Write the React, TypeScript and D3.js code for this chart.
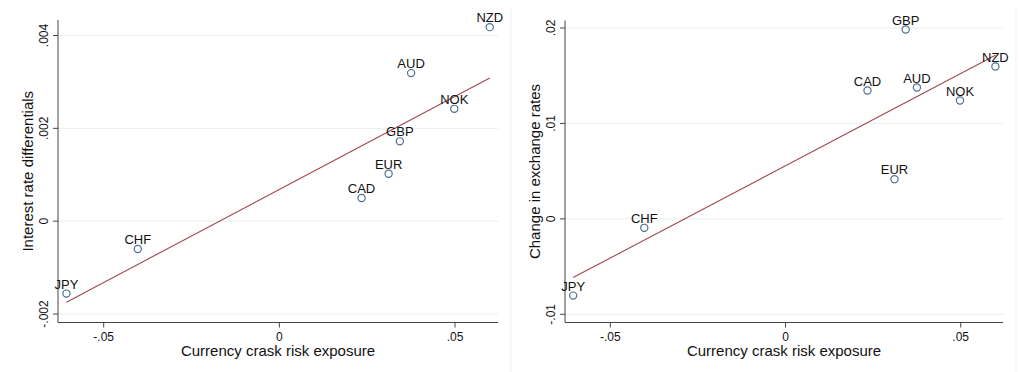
import React from "react";
import * as d3 from "d3";

const currencies = ["JPY", "CHF", "CAD", "EUR", "GBP", "NOK", "AUD", "NZD"];
const exposure = [-0.0606, -0.0403, 0.0234, 0.0311, 0.0343, 0.0498, 0.0375, 0.0599];
const interestDiff = [-0.00156, -0.0006, 0.0005, 0.00102, 0.00172, 0.00242, 0.00319, 0.00418];
const fxChange = [-0.00804, -0.00094, 0.01345, 0.00416, 0.01984, 0.0124, 0.01376, 0.01596];

const xTicks = [-0.05, 0, 0.05];
const xTickLabels = ["-.05", "0", ".05"];
const leftYTicks = [-0.002, 0, 0.002, 0.004];
const leftYTickLabels = ["-.002", "0", ".002", ".004"];
const rightYTicks = [-0.01, 0, 0.01, 0.02];
const rightYTickLabels = ["-.01", "0", ".01", ".02"];

const xTitle = "Currency crask risk exposure";
const leftYTitle = "Interest rate differentials";
const rightYTitle = "Change in exchange rates";

const FONT = "'Liberation Sans', Arial, Helvetica, sans-serif";
const POINT_COLOR = "#4b6f95";
const LINE_COLOR = "#a3474c";
const GRID_COLOR = "#e6eef0";
const AXIS_COLOR = "#444";

function ols(xs: number[], ys: number[]) {
  const mx = d3.mean(xs)!;
  const my = d3.mean(ys)!;
  let sxy = 0, sxx = 0;
  xs.forEach((x, i) => {
    sxy += (x - mx) * (ys[i] - my);
    sxx += (x - mx) * (x - mx);
  });
  const b = sxy / sxx;
  return { a: my - b * mx, b };
}

type PanelProps = {
  xRange: [number, number];
  yRange: [number, number];
  yDomain: [number, number];
  axisLeft: number;
  axisRight: number;
  axisTop: number;
  axisBottom: number;
  ys: number[];
  yTicks: number[];
  yTickLabels: string[];
  yTitle: string;
};

function Panel(p: PanelProps) {
  const x = d3.scaleLinear().domain([-0.05, 0.05]).range(p.xRange);
  const y = d3.scaleLinear().domain(p.yDomain).range(p.yRange);
  const { a, b } = ols(exposure, p.ys);
  const [xmin, xmax] = d3.extent(exposure) as [number, number];
  const line = d3.line<number>().x((d) => x(d)).y((d) => y(a + b * d));
  const midY = (p.axisTop + p.axisBottom) / 2;
  const midX = (p.axisLeft + p.axisRight) / 2;
  return (
    <g fontFamily={FONT}>
      {p.yTicks.map((t) => (
        <line key={"g" + t} x1={p.axisLeft} x2={p.axisRight} y1={y(t)} y2={y(t)} stroke={GRID_COLOR} strokeWidth={1} />
      ))}
      <line x1={p.axisLeft} x2={p.axisLeft} y1={p.axisTop} y2={p.axisBottom} stroke={AXIS_COLOR} strokeWidth={1} />
      <line x1={p.axisLeft} x2={p.axisRight} y1={p.axisBottom} y2={p.axisBottom} stroke={AXIS_COLOR} strokeWidth={1} />
      {p.yTicks.map((t, i) => (
        <g key={"yt" + t}>
          <line x1={p.axisLeft - 5} x2={p.axisLeft} y1={y(t)} y2={y(t)} stroke={AXIS_COLOR} strokeWidth={1} />
          <text
            transform={`translate(${p.axisLeft - 10},${y(t)}) rotate(-90)`}
            textAnchor="middle"
            fontSize={12}
            fill="#111"
          >
            {p.yTickLabels[i]}
          </text>
        </g>
      ))}
      {xTicks.map((t, i) => (
        <g key={"xt" + t}>
          <line x1={x(t)} x2={x(t)} y1={p.axisBottom} y2={p.axisBottom + 5} stroke={AXIS_COLOR} strokeWidth={1} />
          <text x={x(t)} y={p.axisBottom + 18} textAnchor="middle" fontSize={12} fill="#111">
            {xTickLabels[i]}
          </text>
        </g>
      ))}
      <text x={midX} y={356} textAnchor="middle" fontSize={15} fill="#111">
        {xTitle}
      </text>
      <text
        transform={`translate(${p.axisLeft - 25},${midY}) rotate(-90)`}
        textAnchor="middle"
        fontSize={15}
        fill="#111"
      >
        {p.yTitle}
      </text>
      <path d={line([xmin, xmax]) || ""} fill="none" stroke={LINE_COLOR} strokeWidth={1.1} />
      {currencies.map((c, i) => (
        <g key={c}>
          <circle cx={x(exposure[i])} cy={y(p.ys[i])} r={3.6} fill="none" stroke={POINT_COLOR} strokeWidth={1.2} />
          <text x={x(exposure[i])} y={y(p.ys[i]) - 5} textAnchor="middle" fontSize={13} fill="#111">
            {c}
          </text>
        </g>
      ))}
    </g>
  );
}

export default function App() {
  return (
    <svg
      width={1019}
      height={372}
      style={{ position: "absolute", left: 0, top: 0, background: "#fff" }}
    >
      <rect x={0} y={0} width={1019} height={372} fill="#fff" />
      <line x1={511} x2={511} y1={7} y2={372} stroke="#f1f1f1" strokeWidth={1} />
      <line x1={1016} x2={1016} y1={7} y2={372} stroke="#f1f1f1" strokeWidth={1} />
      <Panel
        xRange={[103.7, 455]}
        yRange={[314, 35.5]}
        yDomain={[-0.002, 0.004]}
        axisLeft={58}
        axisRight={498}
        axisTop={20}
        axisBottom={322.5}
        ys={interestDiff}
        yTicks={leftYTicks}
        yTickLabels={leftYTickLabels}
        yTitle={leftYTitle}
      />
      <Panel
        xRange={[610.3, 960.7]}
        yRange={[314.3, 28]}
        yDomain={[-0.01, 0.02]}
        axisLeft={565}
        axisRight={1003}
        axisTop={20.5}
        axisBottom={322.5}
        ys={fxChange}
        yTicks={rightYTicks}
        yTickLabels={rightYTickLabels}
        yTitle={rightYTitle}
      />
    </svg>
  );
}
